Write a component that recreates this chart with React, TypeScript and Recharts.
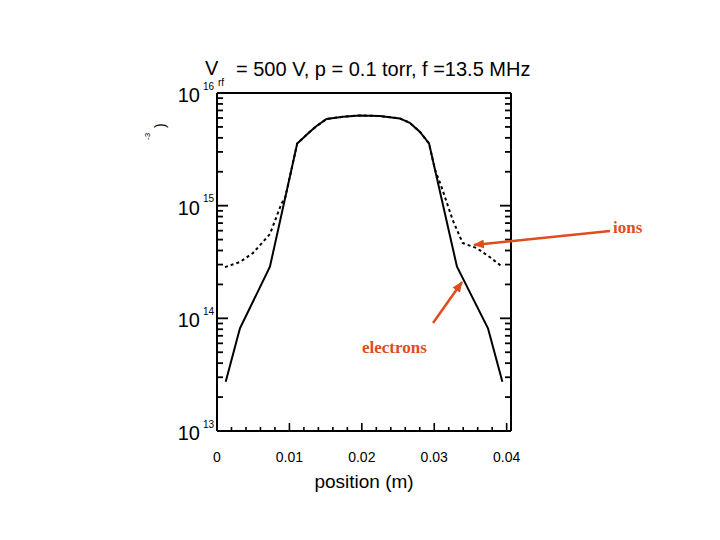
import { LineChart, Line, XAxis, YAxis } from 'recharts';

// electron density (solid line)
const ELECTRON_X = [0.0012, 0.00317, 0.00731, 0.01108, 0.01283, 0.01375, 0.01513, 0.01742, 0.01972, 0.02248, 0.02524, 0.02662, 0.028, 0.02928, 0.03314, 0.03742, 0.03941];
const ELECTRON_N = [2.74e13, 8.15e13, 2.87e14, 3.57e15, 4.53e15, 5.09e15, 5.88e15, 6.16e15, 6.32e15, 6.24e15, 5.95e15, 5.44e15, 4.53e15, 3.57e15, 2.87e14, 8.15e13, 2.74e13];

// ion density (dashed line), same as electrons in the bulk
const ION_X = [0.0011, 0.00317, 0.00497, 0.00731, 0.00892, 0.00938, 0.01108, 0.01283, 0.01375, 0.01513, 0.01742, 0.01972, 0.02248, 0.02524, 0.02662, 0.028, 0.02928, 0.0301, 0.031, 0.03255, 0.03393, 0.03586, 0.03766, 0.03945];
const ION_N = [2.85e14, 3.16e14, 3.8e14, 5.6e14, 1.05e15, 1.15e15, 3.57e15, 4.53e15, 5.09e15, 5.88e15, 6.16e15, 6.32e15, 6.24e15, 5.95e15, 5.44e15, 4.53e15, 3.57e15, 2.09e15, 1.47e15, 7.45e14, 4.66e14, 4.2e14, 3.5e14, 2.85e14];

const X_TICKS = [0, 0.002, 0.004, 0.006, 0.008, 0.01, 0.012, 0.014, 0.016, 0.018, 0.02, 0.022, 0.024, 0.026, 0.028, 0.03, 0.032, 0.034, 0.036, 0.038, 0.04];
const X_LABELS: Record<string, string> = { '0': '0', '0.01': '0.01', '0.02': '0.02', '0.03': '0.03', '0.04': '0.04' };

const DECADES = [13, 14, 15];
const MANTISSAS = [1, 2, 3, 4, 5, 6, 7, 8, 9];
const Y_TICKS = [...DECADES.flatMap(e => MANTISSAS.map(m => m * 10 ** e)), 1e16];

const electrons = ELECTRON_X.map((x, i) => ({ x, n: ELECTRON_N[i] }));
const ions = ION_X.map((x, i) => ({ x, n: ION_N[i] }));

const FONT = '"Liberation Sans", Arial, Helvetica, sans-serif';
const ORANGE = '#e04d1c';

const isMajorX = (v: number) => X_LABELS[String(v)] !== undefined;
const yExp = (v: number) => Math.floor(Math.log10(v) + 1e-9);
const isMajorY = (v: number) => Math.abs(v / 10 ** yExp(v) - 1) < 1e-6;

function BottomTick({ x, y, payload }: any) {
  const major = isMajorX(payload.value);
  return (
    <g>
      <line x1={x} x2={x} y1={y} y2={y - (major ? 8 : 4)} stroke="#000" strokeWidth={1.6} />
      {major && (
        <text x={x} y={y + 26} textAnchor="middle" dominantBaseline="central" fontSize={14} fontFamily={FONT} fill="#000">
          {X_LABELS[String(payload.value)]}
        </text>
      )}
    </g>
  );
}

function TopTick({ x, y, payload }: any) {
  const major = isMajorX(payload.value);
  return <line x1={x} x2={x} y1={y} y2={y + (major ? 8 : 4)} stroke="#000" strokeWidth={1.6} />;
}

function LeftTick({ x, y, payload }: any) {
  const v = payload.value;
  const major = isMajorY(v);
  return (
    <g>
      <line x1={x} x2={x + (major ? 11 : 6)} y1={y} y2={y} stroke="#000" strokeWidth={1.8} />
      {major && (
        <>
          <text x={x - 17} y={y + 2} textAnchor="end" dominantBaseline="central" fontSize={20} fontFamily={FONT} fill="#000">10</text>
          <text x={x - 14} y={y - 7} dominantBaseline="central" fontSize={10} fontFamily={FONT} fill="#000">{yExp(v)}</text>
        </>
      )}
    </g>
  );
}

function RightTick({ x, y, payload }: any) {
  const major = isMajorY(payload.value);
  return <line x1={x} x2={x - (major ? 11 : 6)} y1={y} y2={y} stroke="#000" strokeWidth={1.8} />;
}

export default function App() {
  return (
    <div style={{ position: 'absolute', left: 0, top: 0, width: 720, height: 540, background: '#fff' }}>
      <LineChart width={720} height={540} margin={{ top: 83, right: 199, bottom: 79, left: 137 }}>
        <XAxis xAxisId="b" dataKey="x" type="number" domain={[0, 0.0406]} ticks={X_TICKS} interval={0}
          tickSize={0} tickMargin={0} height={30} tickLine={false} axisLine={{ stroke: '#000', strokeWidth: 2 }} tick={<BottomTick />} />
        <XAxis xAxisId="t" orientation="top" dataKey="x" type="number" domain={[0, 0.0406]} ticks={X_TICKS} interval={0}
          tickSize={0} tickMargin={0} height={10} tickLine={false} axisLine={{ stroke: '#000', strokeWidth: 2 }} tick={<TopTick />} />
        <YAxis yAxisId="l" dataKey="n" type="number" scale="log" domain={[1e13, 1e16]} allowDataOverflow ticks={Y_TICKS} interval={0}
          tickSize={0} tickMargin={0} width={80} tickLine={false} axisLine={{ stroke: '#000', strokeWidth: 2 }} tick={<LeftTick />} />
        <YAxis yAxisId="r" orientation="right" dataKey="n" type="number" scale="log" domain={[1e13, 1e16]} allowDataOverflow ticks={Y_TICKS} interval={0}
          tickSize={0} tickMargin={0} width={10} tickLine={false} axisLine={{ stroke: '#000', strokeWidth: 2 }} tick={<RightTick />} />
        <Line xAxisId="b" yAxisId="l" data={ions} dataKey="n" type="linear" stroke="#000" strokeWidth={2}
          strokeDasharray="3 3" dot={false} isAnimationActive={false} />
        <Line xAxisId="b" yAxisId="l" data={electrons} dataKey="n" type="linear" stroke="#000" strokeWidth={2}
          dot={false} isAnimationActive={false} />
      </LineChart>
      <svg width={720} height={540} style={{ position: 'absolute', left: 0, top: 0, pointerEvents: 'none' }}>
        <defs>
          <marker id="head" markerWidth={11} markerHeight={9} refX={10} refY={4.5} orient="auto" markerUnits="userSpaceOnUse">
            <path d="M0,0 L11,4.5 L0,9 z" fill={ORANGE} />
          </marker>
        </defs>
        <g fontFamily={FONT} fill="#000">
          <text x={205} y={75} fontSize={20}>V</text>
          <text x={218} y={86} fontSize={10}>rf</text>
          <text x={236} y={76} fontSize={20}>= 500 V, p = 0.1 torr, f =13.5 MHz</text>
          <text x={364} y={488} fontSize={19} textAnchor="middle">position (m)</text>
          <text transform="translate(150,140) rotate(-90)" fontSize={8}>-3</text>
          <text transform="translate(165,128) rotate(-90)" fontSize={14}>)</text>
        </g>
        <line x1={610} y1={231} x2={474} y2={245} stroke={ORANGE} strokeWidth={2.5} markerEnd="url(#head)" />
        <line x1={433} y1={323} x2={462} y2={282} stroke={ORANGE} strokeWidth={2.5} markerEnd="url(#head)" />
        <g fontFamily='"Liberation Serif", "Times New Roman", serif' fontWeight="bold" fontSize={17} fill={ORANGE}>
          <text x={613} y={233}>ions</text>
          <text x={362} y={353}>electrons</text>
        </g>
      </svg>
    </div>
  );
}
